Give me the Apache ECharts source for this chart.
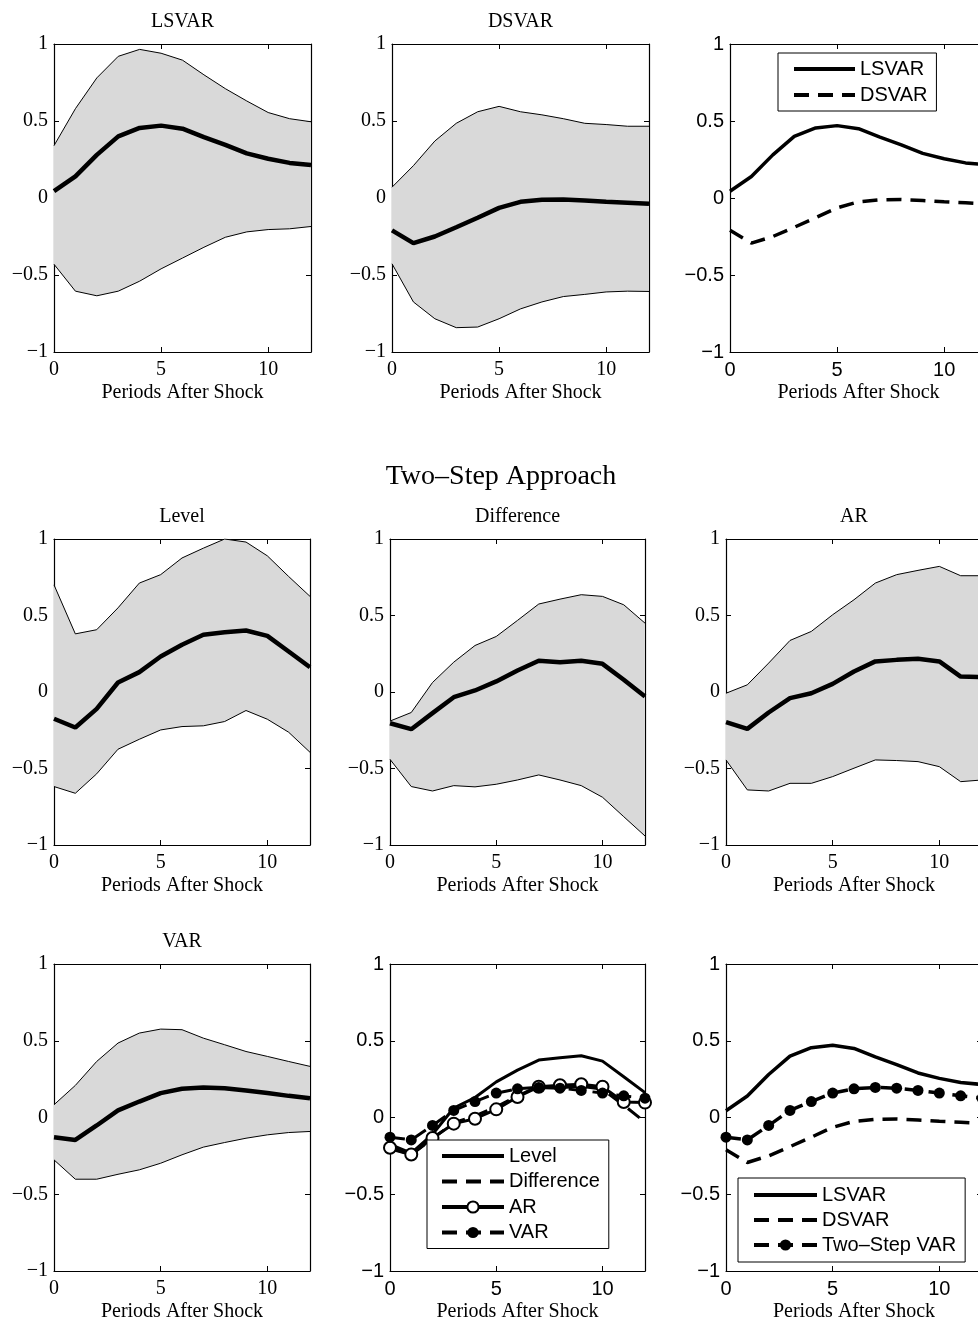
<!DOCTYPE html>
<html>
<head>
<meta charset="utf-8">
<script src="https://cdn.jsdelivr.net/npm/echarts@6.0.0/dist/echarts.min.js"></script>
<style>
html,body{margin:0;padding:0;background:#fff;}
#chart{width:978px;height:1322px;}
</style>
</head>
<body>
<div id="chart"></div>
<script>
// ---------------- DATA ----------------
const periods = [0,1,2,3,4,5,6,7,8,9,10,11,12];
const xTicks = [0,5,10];
const yTicks = [-1,-0.5,0,0.5,1];

const lsvarMedian = [0.044,0.14,0.28,0.40,0.455,0.47,0.45,0.395,0.345,0.29,0.255,0.228,0.215];
const lsvarUpper  = [0.34,0.58,0.78,0.92,0.965,0.94,0.895,0.80,0.71,0.63,0.555,0.515,0.495];
const lsvarLower  = [-0.43,-0.605,-0.635,-0.605,-0.54,-0.46,-0.39,-0.32,-0.255,-0.22,-0.205,-0.2,-0.185];

const dsvarMedian = [-0.21,-0.293,-0.25,-0.19,-0.128,-0.064,-0.025,-0.012,-0.01,-0.016,-0.025,-0.031,-0.038];
const dsvarUpper  = [0.07,0.21,0.37,0.485,0.56,0.595,0.56,0.54,0.515,0.485,0.477,0.466,0.466];
const dsvarLower  = [-0.427,-0.675,-0.784,-0.842,-0.838,-0.784,-0.72,-0.675,-0.64,-0.626,-0.61,-0.605,-0.607];

const levelMedian = [-0.175,-0.232,-0.11,0.062,0.13,0.232,0.309,0.374,0.39,0.402,0.367,0.265,0.162];
const levelUpper  = [0.70,0.38,0.407,0.55,0.712,0.767,0.876,0.94,1.0,0.98,0.89,0.755,0.625];
const levelLower  = [-0.618,-0.662,-0.535,-0.374,-0.309,-0.248,-0.226,-0.221,-0.193,-0.121,-0.178,-0.263,-0.394];

const diffMedian = [-0.204,-0.243,-0.138,-0.034,0.01,0.069,0.14,0.204,0.195,0.204,0.184,0.08,-0.03];
const diffUpper  = [-0.19,-0.134,0.062,0.195,0.304,0.363,0.468,0.575,0.607,0.636,0.625,0.57,0.45];
const diffLower  = [-0.44,-0.618,-0.647,-0.612,-0.62,-0.603,-0.575,-0.542,-0.575,-0.612,-0.688,-0.815,-0.941];

const arMedian = [-0.197,-0.241,-0.134,-0.04,-0.008,0.053,0.134,0.2,0.21,0.217,0.2,0.101,0.097];
const arUpper  = [-0.008,0.047,0.189,0.337,0.396,0.505,0.603,0.712,0.767,0.795,0.821,0.76,0.76];
const arLower  = [-0.444,-0.64,-0.647,-0.597,-0.597,-0.553,-0.498,-0.444,-0.448,-0.455,-0.488,-0.586,-0.575];

const varMedian = [-0.128,-0.146,-0.052,0.046,0.104,0.159,0.187,0.196,0.191,0.176,0.159,0.141,0.126];
const varUpper  = [0.083,0.209,0.365,0.485,0.55,0.576,0.572,0.517,0.474,0.43,0.398,0.365,0.333];
const varLower  = [-0.276,-0.402,-0.402,-0.37,-0.341,-0.298,-0.243,-0.193,-0.163,-0.135,-0.113,-0.098,-0.091];

const xAxisTitle = 'Periods After Shock';
const sectionTitle = 'Two\u2013Step Approach';

// ---------------- LAYOUT / STYLE ----------------
const SERIF = "'Liberation Serif','Times New Roman',serif";
const SANS = "'Liberation Sans',Arial,sans-serif";
const BAND = '#d9d9d9';

const panels = [
  {left:54,  top:44,  width:257, height:308, font:SERIF, title:'LSVAR'},
  {left:392, top:44,  width:257, height:308, font:SERIF, title:'DSVAR'},
  {left:730, top:44,  width:257, height:308, font:SANS,  title:''},
  {left:54,  top:539, width:256, height:306, font:SERIF, title:'Level'},
  {left:390, top:539, width:255, height:306, font:SERIF, title:'Difference'},
  {left:726, top:539, width:256, height:306, font:SERIF, title:'AR'},
  {left:54,  top:964, width:256, height:307, font:SERIF, title:'VAR'},
  {left:390, top:964, width:255, height:307, font:SANS,  title:''},
  {left:726, top:964, width:256, height:307, font:SANS,  title:''}
];

const pairs = arr => periods.map((p,i) => [p, arr[i]]);
const yFmt = v => v < 0 ? '\u2212' + Math.abs(v) : String(v);

const grids = [], xAxes = [], yAxes = [], series = [], graphics = [];

panels.forEach((P, i) => {
  grids.push({left:P.left, top:P.top, width:P.width, height:P.height, containLabel:false, outerBoundsMode:'none', show:false});
  const lineSt = {show:true, onZero:false, lineStyle:{color:'#000', width:1.2}};
  const tickSt = v => ({show:true, inside:true, length:5, lineStyle:{color:'#000', width:1}, customValues:v});
  xAxes.push({
    gridIndex:i, type:'value', min:0, max:12, interval:5, position:'bottom',
    axisLine:lineSt, axisTick:tickSt(xTicks), splitLine:{show:false},
    axisLabel:{customValues:xTicks, fontFamily:P.font, fontSize:20, color:'#000', margin:8},
    name:xAxisTitle, nameLocation:'middle', nameGap:31,
    nameTextStyle:{fontFamily:SERIF, fontSize:20, color:'#000'}
  });
  xAxes.push({
    gridIndex:i, type:'value', min:0, max:12, interval:5, position:'top',
    axisLine:lineSt, axisTick:tickSt(xTicks), splitLine:{show:false}, axisLabel:{show:false}
  });
  yAxes.push({
    gridIndex:i, type:'value', min:-1, max:1, interval:0.5, position:'left',
    axisLine:lineSt, axisTick:tickSt(yTicks), splitLine:{show:false},
    axisLabel:{customValues:yTicks, formatter:yFmt, fontFamily:P.font, fontSize:20, color:'#000', margin:6}
  });
  yAxes.push({
    gridIndex:i, type:'value', min:-1, max:1, interval:0.5, position:'right',
    axisLine:lineSt, axisTick:tickSt(yTicks), splitLine:{show:false}, axisLabel:{show:false}
  });
});

function bandPanel(gi, lower, upper, median) {
  const ax = {xAxisIndex:2*gi, yAxisIndex:2*gi};
  series.push(Object.assign({
    type:'custom', silent:true,
    data: periods.map((p,i) => [p, lower[i], upper[i]]),
    encode:{x:0, y:[1,2]},
    renderItem: function(params, api) {
      if (params.dataIndex !== 0) return null;
      const pts = [];
      for (let k = 0; k < periods.length; k++) pts.push(api.coord([periods[k], upper[k]]));
      for (let k = periods.length - 1; k >= 0; k--) pts.push(api.coord([periods[k], lower[k]]));
      return {type:'polygon', shape:{points:pts}, style:{fill:BAND, stroke:null}};
    }
  }, ax));
  [lower, upper].forEach(arr => series.push(Object.assign({
    type:'line', data:pairs(arr), symbol:'none', silent:true,
    lineStyle:{color:'#000', width:1}
  }, ax)));
  series.push(Object.assign({
    type:'line', data:pairs(median), symbol:'none', silent:true,
    lineStyle:{color:'#000', width:4.5}
  }, ax));
}

function lineSeries(gi, name, arr, opts) {
  const o = opts || {};
  series.push({
    type:'line', name:name, xAxisIndex:2*gi, yAxisIndex:2*gi, data:pairs(arr),
    symbol: o.symbol || 'none', symbolSize: o.symbolSize || 0, showSymbol: !!o.symbol,
    itemStyle: o.itemStyle || {color:'#000'},
    lineStyle:{color:'#000', width:o.width || 3.5, type:o.dash ? [15,9] : 'solid'},
    silent:true, color:'#000'
  });
}

bandPanel(0, lsvarLower, lsvarUpper, lsvarMedian);
bandPanel(1, dsvarLower, dsvarUpper, dsvarMedian);
lineSeries(2, 'LSVAR', lsvarMedian);
lineSeries(2, 'DSVAR', dsvarMedian, {dash:true});
bandPanel(3, levelLower, levelUpper, levelMedian);
bandPanel(4, diffLower, diffUpper, diffMedian);
bandPanel(5, arLower, arUpper, arMedian);
bandPanel(6, varLower, varUpper, varMedian);
lineSeries(7, 'Level', levelMedian, {width:3});
lineSeries(7, 'Difference', diffMedian, {width:3, dash:true});
lineSeries(7, 'AR', arMedian, {width:3, symbol:'emptyCircle', symbolSize:12, itemStyle:{color:'#000', borderColor:'#000', borderWidth:2.5}});
lineSeries(7, 'VAR', varMedian, {width:3, dash:true, symbol:'circle', symbolSize:11, itemStyle:{color:'#000'}});
lineSeries(8, 'LSVAR', lsvarMedian);
lineSeries(8, 'DSVAR', dsvarMedian, {dash:true});
lineSeries(8, 'Two\u2013Step VAR', varMedian, {dash:true, symbol:'circle', symbolSize:11, itemStyle:{color:'#000'}});

panels.forEach(P => {
  if (!P.title) return;
  graphics.push({type:'text', x:P.left + P.width/2, y:P.top - 22,
    style:{text:P.title, font:'20px ' + SERIF, fill:'#000', align:'center', verticalAlign:'middle'}});
});
graphics.push({type:'text', x:501, y:477,
  style:{text:sectionTitle, font:'28px ' + SERIF, fill:'#000', align:'center', verticalAlign:'middle'}});

const legendBase = {
  orient:'vertical', selectedMode:false, backgroundColor:'#fff',
  borderColor:'#000', borderWidth:1, borderRadius:0,
  itemHeight:14, textStyle:{fontFamily:SANS, fontSize:20, color:'#000'}
};
const noMark = n => ({name:n, itemStyle:{opacity:0}});

const option = {
  animation:false,
  backgroundColor:'#fff',
  grid:grids, xAxis:xAxes, yAxis:yAxes, series:series,
  graphic:graphics,
  legend:[
    Object.assign({}, legendBase, {left:778, top:53, itemWidth:61, itemGap:6, padding:[6,9,6,14],
      lineStyle:{width:4},
      data:[noMark('LSVAR'), noMark('DSVAR')]}),
    Object.assign({}, legendBase, {left:427, top:1140, itemWidth:62, itemGap:5.5, padding:[6,9,6,13],
      lineStyle:{width:4}, itemStyle:{borderWidth:2.5},
      data:[noMark('Level'), noMark('Difference'), 'AR', 'VAR']}),
    Object.assign({}, legendBase, {left:738, top:1178, itemWidth:63, itemGap:5, padding:[7,9,7,14],
      lineStyle:{width:4},
      data:[noMark('LSVAR'), noMark('DSVAR'), 'Two\u2013Step VAR']})
  ]
};

const chart = echarts.init(document.getElementById('chart'), null, {renderer:'canvas'});
chart.setOption(option);
</script>
</body>
</html>
